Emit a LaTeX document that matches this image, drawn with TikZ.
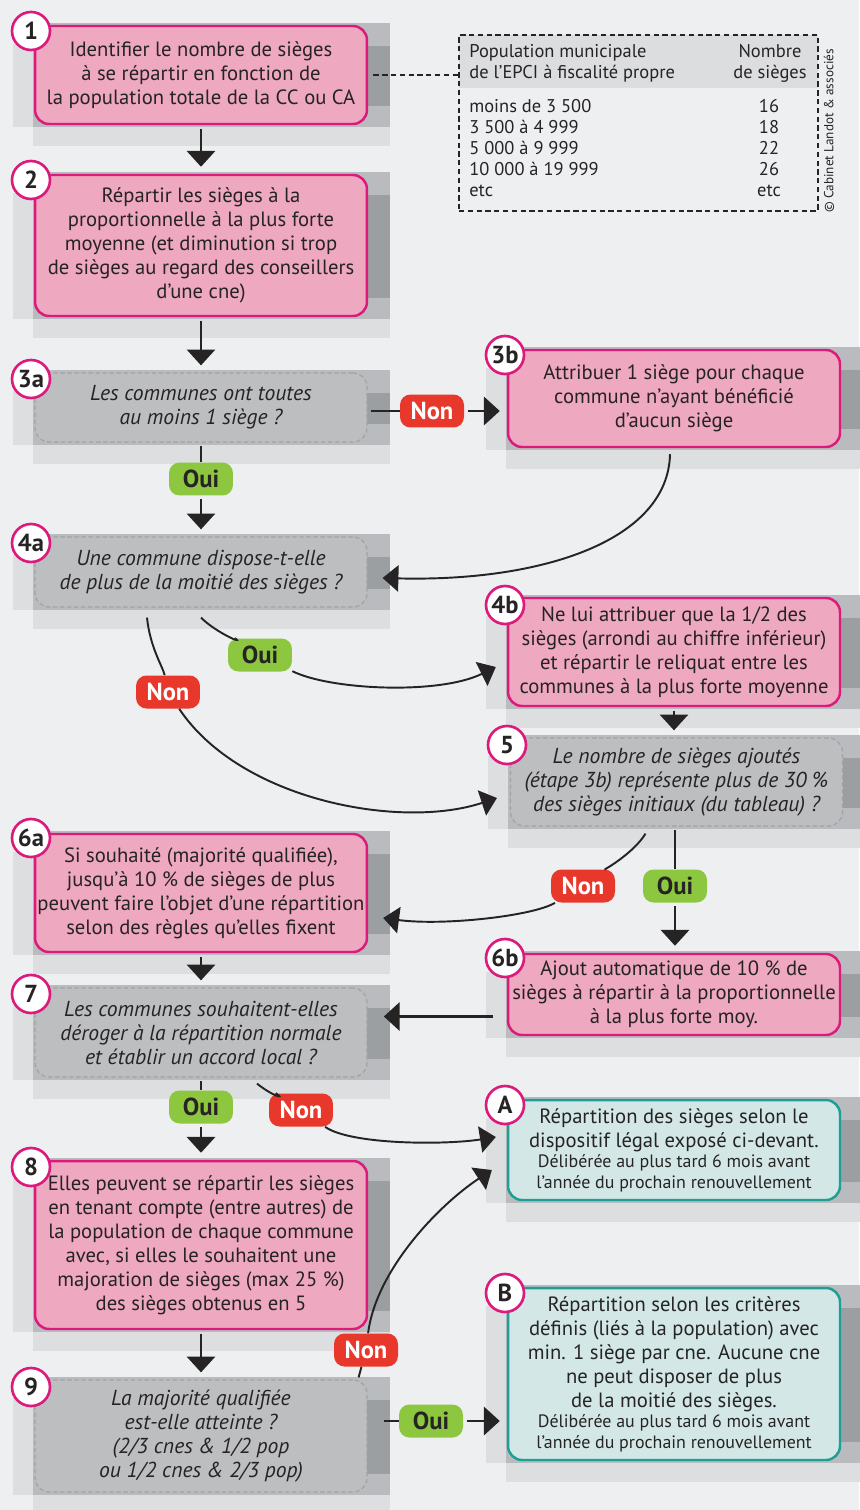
\documentclass[tikz,border=0pt]{standalone}
\usepackage{fontspec}
\setmainfont{PT Sans}
\usetikzlibrary{arrows.meta,calc,positioning}

\definecolor{bg}{HTML}{EEEFF1}
\definecolor{ink}{HTML}{262324}
\definecolor{rose}{HTML}{EEA8BF}
\definecolor{roseline}{HTML}{DC1A7C}
\definecolor{askfill}{HTML}{BDBEC0}
\definecolor{askline}{HTML}{A2A3A6}
\definecolor{tealfill}{HTML}{D3E8E6}
\definecolor{tealline}{HTML}{1E9F95}
\definecolor{shadelight}{HTML}{DDDEE0}
\definecolor{shademid}{HTML}{B9BBBE}
\definecolor{shadedark}{HTML}{9C9FA2}
\definecolor{tabhead}{HTML}{DCDDDF}
\definecolor{nonred}{HTML}{E8372B}
\definecolor{ouigreen}{HTML}{8DC63F}

\newcommand\bodyfont{\fontsize{11.75}{13.66}\selectfont}
\newcommand\askfont{\fontsize{12.3}{13.66}\selectfont\itshape}
\newcommand\notefont{\fontsize{10.2}{11.5}\selectfont}
\newcommand\tabfont{\fontsize{10.5}{12}\selectfont}
\newcommand\badgefont{\fontsize{14}{15}\selectfont\bfseries}
\newcommand\pillfont{\fontsize{14}{15}\selectfont\bfseries}

% grey panel behind a box: left, top, right, bottom (px)
\newcommand\panel[4]{%
  \fill[shadelight] ({#1-22},{#2+18}) rectangle ({#1-2},{#4+3}) ;
  \fill[shadelight] ({#1-2},{#4+3}) rectangle ({#3+23},{#4+22}) ;
  \fill[shademid] ({#1-2},{#2-3}) rectangle ({#3+23},{#4+3}) ;
  \fill[shadedark] (#3,{#2+20}) rectangle ({#3+23},{#4-18}) ;
}

\tikzset{
  basebox/.style={rounded corners=8pt, minimum width=6.64cm, inner sep=0pt,
    align=center, font=\bodyfont, text=ink},
  rosebox/.style={basebox, draw=roseline, fill=rose, line width=1.4pt},
  askbox/.style={basebox, draw=askline, fill=askfill, line width=0.7pt,
    dash pattern=on 2.5pt off 1.5pt, font=\askfont},
  endbox/.style={basebox, draw=tealline, fill=tealfill, line width=1.4pt},
  badge/.style={circle, draw=roseline, fill=white, line width=1.5pt,
    minimum size=0.76cm, inner sep=0pt, font=\badgefont, text=ink},
  pill/.style={rounded corners=6pt, minimum width=1.28cm, minimum height=0.66cm,
    inner sep=0pt, font=\pillfont},
  non/.style={pill, fill=nonred, text=white},
  oui/.style={pill, fill=ouigreen, text=ink},
  cell/.style={inner sep=0pt, font=\tabfont, text=ink},
  wire/.style={draw=ink, line width=1.6pt, shorten <=2pt},
  wirearr/.style={wire, -{Triangle[width=16pt,length=9pt]}, shorten >=4pt},
  swoop/.style={draw=ink, line width=1.1pt},
  swooparr/.style={swoop, -{Triangle[width=15pt,length=9pt]}},
}

\begin{document}
\begin{tikzpicture}[x=0.02cm, y=-0.02cm]
	\useasboundingbox (0,0) rectangle (859,1510) ;
	\fill[bg] (0,0) rectangle (859,1510) ;
	% panels
	\panel{35}{26}{367}{124}
	\panel{35}{175}{367}{316}
	\panel{35}{373}{367}{442}
	\panel{508}{350}{840}{447}
	\panel{35}{537}{367}{607}
	\panel{508}{598}{840}{706}
	\panel{510}{738}{843}{826}
	\panel{35}{834}{367}{952}
	\panel{508}{954}{840}{1035}
	\panel{35}{988}{367}{1077}
	\panel{508}{1100}{840}{1200}
	\panel{35}{1161}{367}{1329}
	\panel{35}{1380}{367}{1492}
	\panel{508}{1288}{840}{1460}

	% table
	\fill[tabhead] (459,35) rectangle (818,88) ;
	\node (tab) [draw=ink, line width=0.7pt, dash pattern=on 3pt off 2pt, minimum width=7.18cm, minimum height=3.52cm, inner sep=0pt] at (638.5,123) {} ;
	\node (th1) [cell, anchor=base west] at (469,58) {Population municipale} ;
	\node (th2) [cell, anchor=base west] at (469,79) {de l’EPCI à fiscalité propre} ;
	\node (th3) [cell, anchor=base] at (770,58) {Nombre} ;
	\node (th4) [cell, anchor=base] at (770,79) {de sièges} ;
	\foreach \pop/\nb [count=\i] in {moins de 3 500/16, 3 500 à 4 999/18, 5 000 à 9 999/22, 10 000 à 19 999/26, etc/etc}
	{
		\node (pop\i) [cell, anchor=base west] at (469,{92+21*\i}) {\pop} ;
		\node (nb\i) [cell, anchor=base] at (769,{92+21*\i}) {\nb} ;
	}
	\node (copy) [rotate=90, font=\fontsize{7.5}{9}\selectfont, text=ink] at (829,131) {© Cabinet Landot \& associés} ;

	% boxes
	\node (b1) [rosebox, minimum height=1.96cm] at (201,75) {Identifier le nombre de sièges\\à se répartir en fonction de\\la population totale de la CC ou CA} ;
	\node (b2) [rosebox, minimum height=2.82cm] at (201,245.5) {Répartir les sièges à la\\proportionnelle à la plus forte\\moyenne (et diminution si trop\\de sièges au regard des conseillers\\d’une cne)} ;
	\node (b3a) [askbox, minimum height=1.38cm] at (201,407.5) {Les communes ont toutes\\au moins 1 siège ?} ;
	\node (b3b) [rosebox, minimum height=1.94cm] at (674,398.5) {Attribuer 1 siège pour chaque\\commune n’ayant bénéficié\\d’aucun siège} ;
	\node (b4a) [askbox, minimum height=1.4cm] at (201,572) {Une commune dispose-t-elle\\de plus de la moitié des sièges ?} ;
	\node (b4b) [rosebox, minimum height=2.16cm] at (674,652) {Ne lui attribuer que la 1/2 des\\sièges (arrondi au chiffre inférieur)\\et répartir le reliquat entre les\\communes à la plus forte moyenne} ;
	\node (b5) [askbox, minimum height=1.76cm] at (676.5,782) {Le nombre de sièges ajoutés\\(étape 3b) représente plus de 30 \%\\des sièges initiaux (du tableau) ?} ;
	\node (b6a) [rosebox, minimum height=2.36cm] at (201,893) {Si souhaité (majorité qualifiée),\\jusqu’à 10 \% de sièges de plus\\peuvent faire l’objet d’une répartition\\selon des règles qu’elles fixent} ;
	\node (b6b) [rosebox, minimum height=1.62cm] at (674,994.5) {Ajout automatique de 10 \% de\\sièges à répartir à la proportionnelle\\à la plus forte moy.} ;
	\node (b7) [askbox, minimum height=1.78cm] at (201,1032.5) {Les communes souhaitent-elles\\déroger à la répartition normale\\et établir un accord local ?} ;
	\node (bA) [endbox, minimum height=2cm] at (674,1150) {Répartition des sièges selon le\\dispositif légal exposé ci-devant.\\[-2pt]\notefont Délibérée au plus tard 6 mois avant\\[-2pt]\notefont l’année du prochain renouvellement} ;
	\node (b8) [rosebox, minimum height=3.36cm] at (201,1245) {Elles peuvent se répartir les sièges\\en tenant compte (entre autres) de\\la population de chaque commune\\avec, si elles le souhaitent une\\majoration de sièges (max 25 \%)\\des sièges obtenus en 5} ;
	\node (b9) [askbox, minimum height=2.24cm] at (201,1436) {La majorité qualifiée\\est-elle atteinte ?\\(2/3 cnes \& 1/2 pop\\ou 1/2 cnes \& 2/3 pop)} ;
	\node (bB) [endbox, minimum height=3.44cm] at (674,1374) {Répartition selon les critères\\définis (liés à la population) avec\\min. 1 siège par cne. Aucune cne\\ne peut disposer de plus\\de la moitié des sièges.\\[-2pt]\notefont Délibérée au plus tard 6 mois avant\\[-2pt]\notefont l’année du prochain renouvellement} ;

	% badges
	\node (n1) [badge] at (31,31) {1} ;
	\node (n2) [badge] at (31,180) {2} ;
	\node (n3a) [badge] at (31,379) {3a} ;
	\node (n3b) [badge] at (505,355) {3b} ;
	\node (n4a) [badge] at (31,543) {4a} ;
	\node (n4b) [badge] at (505,605) {4b} ;
	\node (n5) [badge] at (507,745) {5} ;
	\node (n6a) [badge] at (31,838) {6a} ;
	\node (n6b) [badge] at (505,958) {6b} ;
	\node (n7) [badge] at (31,994) {7} ;
	\node (nA) [badge] at (505,1105) {A} ;
	\node (n8) [badge] at (31,1167) {8} ;
	\node (n9) [badge] at (31,1387) {9} ;
	\node (nB) [badge] at (505,1293) {B} ;

	% answers
	\node (non3) [non] at (432,411) {Non} ;
	\node (oui3) [oui] at (201,479) {Oui} ;
	\node (oui4) [oui] at (260,655) {Oui} ;
	\node (non4) [non] at (168,692) {Non} ;
	\node (non5) [non] at (583,886) {Non} ;
	\node (oui5) [oui] at (675,886) {Oui} ;
	\node (oui7) [oui] at (201,1107) {Oui} ;
	\node (non7) [non] at (301,1110) {Non} ;
	\node (non9) [non] at (366,1350) {Non} ;
	\node (oui9) [oui] at (431,1421) {Oui} ;

	% connectors
	\draw[swoop, dash pattern=on 3pt off 2pt, shorten <=3pt] (b1.east) -- (b1.east -| tab.west) ;
	\draw[wirearr] (b1) -- (b2) ;
	\draw[wirearr] (b2) -- (b3a) ;
	\draw[wire] (b3a) -- (oui3) ;
	\draw[wirearr] (oui3) -- (b4a) ;
	\draw[wire] (b3a.east |- non3) -- (non3) ;
	\draw[wirearr] (non3) -- (non3 -| b3b.west) ;
	\draw[swooparr] ($(b3b.south)+(-4,6)$) .. controls +(-2,87) and +(158,4) .. ($(b4a.east)+(15,6)$) ;
	\draw[swoop] ($(b4a.south)+(0,10)$) .. controls +(15,15) and +(-15,-10) .. (oui4) ;
	\draw[swooparr] (oui4) .. controls +(70,35) and +(-57,28) .. ($(b4b.west)+(-11,15)$) ;
	\draw[swoop] ($(b4a.south)+(-54,10)$) .. controls +(3,30) and +(-5,-25) .. (non4) ;
	\draw[swooparr] (non4) .. controls +(72,108) and +(-97,32) .. ($(b5.west)+(-13,16)$) ;
	\draw[wirearr] (b4b.south) -- (b4b.south |- b5.north) ;
	\draw[swoop] ($(b5.south)+(-31,7)$) .. controls +(-12,20) and +(18,-14) .. (non5) ;
	\draw[swooparr] (non5) .. controls +(-50,30) and +(60,8) .. ($(b6a.east)+(15,25)$) ;
	\draw[wire] (b5.south -| oui5) -- (oui5) ;
	\draw[wirearr] (oui5) -- (oui5 |- b6b.north) ;
	\draw[wirearr] (b6a) -- (b7) ;
	\draw[wirearr] ($(b6b.west)+(-10,22)$) -- +(-120,0) ;
	\draw[wire] (b7) -- (oui7) ;
	\draw[wirearr] (oui7) -- (b8) ;
	\draw[swoop] ($(b7.south)+(56,6)$) .. controls +(15,12) and +(-15,-10) .. (non7) ;
	\draw[swooparr] (non7) .. controls +(50,35) and +(-50,8) .. ($(bA.west)+(-11,-13)$) ;
	\draw[wirearr] (b8) -- (b9) ;
	\draw[swoop] ($(b9.north east)+(-9,-2)$) -- (non9) ;
	\draw[swooparr] (non9) .. controls +(10,-80) and +(-53,35) .. ($(bA.west)+(-15,20)$) ;
	\draw[wire] ($(b9.east)+(13,-15)$) -- (oui9) ;
	\draw[wirearr] (oui9) -- (oui9 -| bB.west) ;
\end{tikzpicture}
\end{document}
